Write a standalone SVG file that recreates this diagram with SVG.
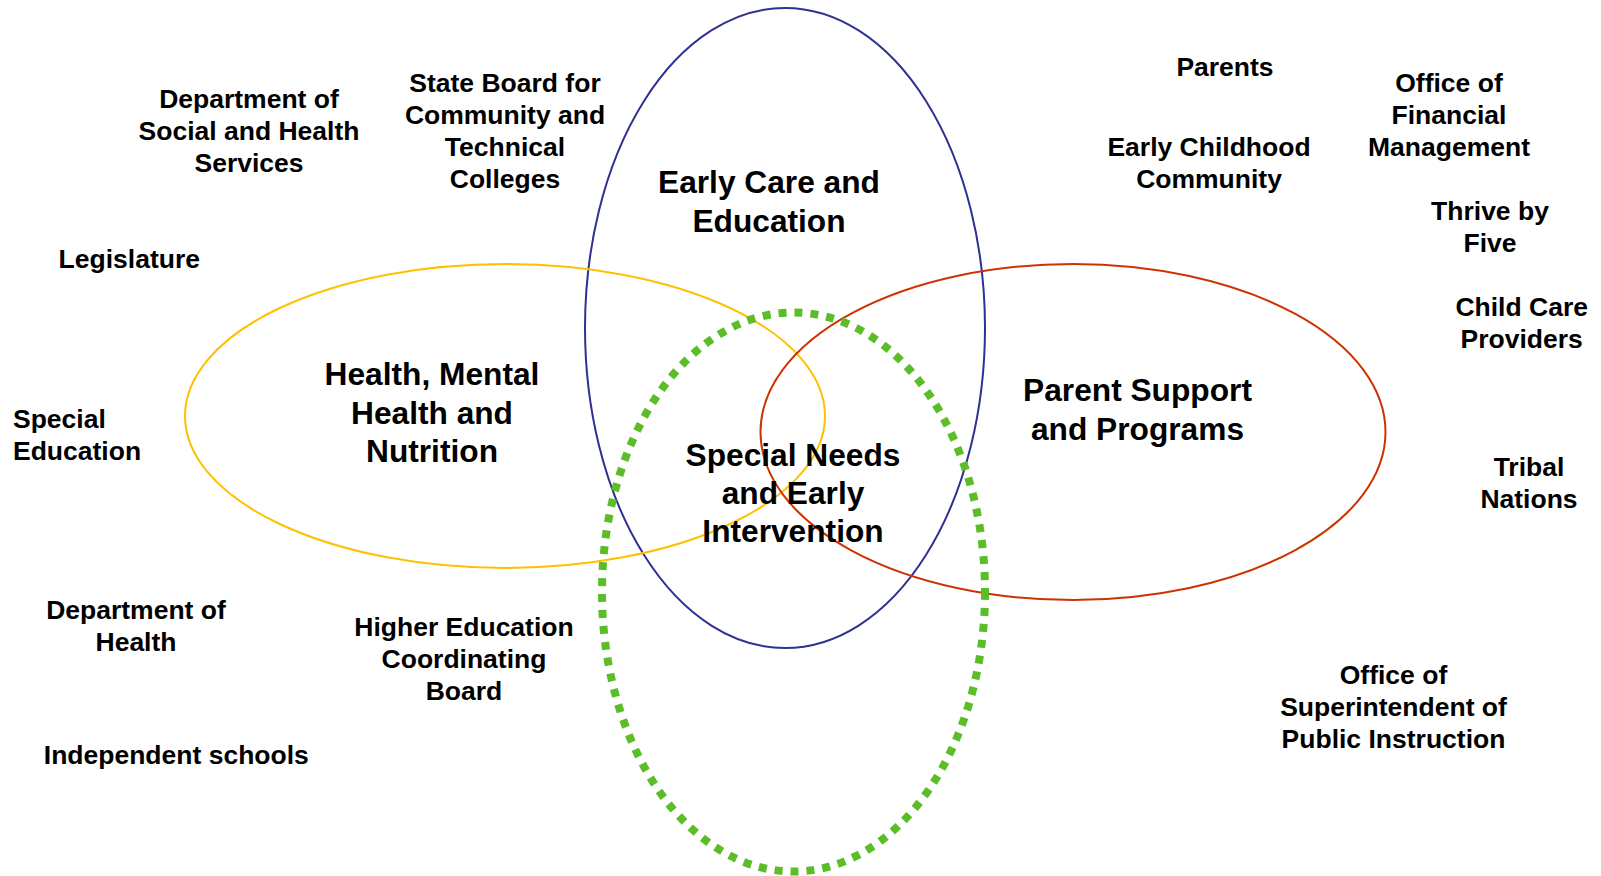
<svg xmlns="http://www.w3.org/2000/svg" width="1601" height="876" viewBox="0 0 1601 876">
<style>
text{font-family:"Liberation Sans",Arial,sans-serif;font-weight:bold;fill:#000}
.s{font-size:26.5px;text-anchor:middle}
.b{font-size:31.7px;text-anchor:middle}
.e{fill:none;stroke-width:2}
</style>
<rect width="1601" height="876" fill="#fff"/>
<g id="sets">
<ellipse id="ece" class="e" cx="785" cy="328" rx="200" ry="320" stroke="#2E3192"/>
<ellipse id="health" class="e" cx="505" cy="416" rx="320" ry="152" stroke="#FFC000"/>
<ellipse id="parent" class="e" cx="1073" cy="432" rx="312.5" ry="168" stroke="#CC3300"/>
<ellipse id="special" cx="793.5" cy="592" rx="191.5" ry="279.5" fill="none" stroke="#5CBD28" stroke-width="8" stroke-dasharray="8 8"/>
</g>
<g id="connectors"></g>
<g id="set-labels">
<g id="lbl-ece"><text class="b" x="769" y="193">Early Care and</text><text class="b" x="769" y="232">Education</text></g>
<g id="lbl-health"><text class="b" x="432" y="385">Health, Mental</text><text class="b" x="432" y="423.5">Health and</text><text class="b" x="432" y="462">Nutrition</text></g>
<g id="lbl-parent"><text class="b" x="1137.5" y="401">Parent Support</text><text class="b" x="1137.5" y="440">and Programs</text></g>
<g id="lbl-special"><text class="b" x="793" y="466">Special Needs</text><text class="b" x="793" y="504">and Early</text><text class="b" x="793" y="541.5">Intervention</text></g>
</g>
<g id="dshs"><text class="s" x="249" y="108">Department of</text><text class="s" x="249" y="140">Social and Health</text><text class="s" x="249" y="172">Services</text></g>
<g id="sbctc"><text class="s" x="505" y="92">State Board for</text><text class="s" x="505" y="124">Community and</text><text class="s" x="505" y="156">Technical</text><text class="s" x="505" y="188">Colleges</text></g>
<g id="legislature"><text class="s" x="129.3" y="268">Legislature</text></g>
<g id="special-ed"><text class="s" x="13" y="428" style="text-anchor:start">Special</text><text class="s" x="13" y="460" style="text-anchor:start">Education</text></g>
<g id="doh"><text class="s" x="136" y="619">Department of</text><text class="s" x="136" y="651">Health</text></g>
<g id="hecb"><text class="s" x="464" y="636">Higher Education</text><text class="s" x="464" y="668">Coordinating</text><text class="s" x="464" y="700">Board</text></g>
<g id="independent"><text class="s" x="176.3" y="764">Independent schools</text></g>
<g id="parents"><text class="s" x="1225" y="76">Parents</text></g>
<g id="ecc"><text class="s" x="1209" y="155.5">Early Childhood</text><text class="s" x="1209" y="187.5">Community</text></g>
<g id="ofm"><text class="s" x="1449" y="92">Office of</text><text class="s" x="1449" y="124">Financial</text><text class="s" x="1449" y="155.5">Management</text></g>
<g id="thrive"><text class="s" x="1490" y="220">Thrive by</text><text class="s" x="1490" y="252">Five</text></g>
<g id="childcare"><text class="s" x="1521.7" y="316">Child Care</text><text class="s" x="1521.7" y="348">Providers</text></g>
<g id="tribal"><text class="s" x="1529" y="476">Tribal</text><text class="s" x="1529" y="508">Nations</text></g>
<g id="ospi"><text class="s" x="1393.5" y="683.5">Office of</text><text class="s" x="1393.5" y="715.5">Superintendent of</text><text class="s" x="1393.5" y="747.5">Public Instruction</text></g>
</svg>
